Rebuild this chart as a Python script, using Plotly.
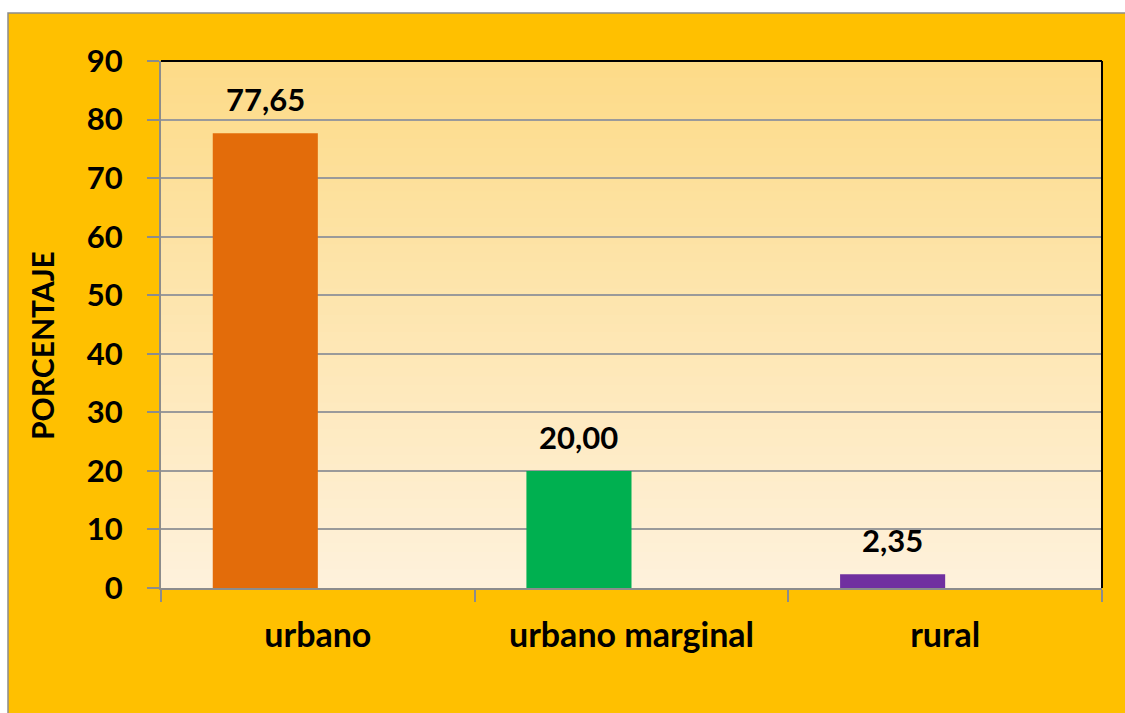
import plotly.graph_objects as go

categories = ["urbano", "urbano marginal", "rural"]
values = [77.65, 20.00, 2.35]
empty_series = [None, None, None]
bar_colors = ["#E36C0A", "#00B050", "#7030A0"]
y_ticks = [0, 10, 20, 30, 40, 50, 60, 70, 80, 90]
y_title = "PORCENTAJE"

FONT = "Lato"
W, H = 1125, 713
L, R, T, B = 161, 1102, 61, 588
BARGAP = 0.33

def px_x(p):
    return (p - L) / (R - L)

def px_y(p):
    return (B - p) / (B - T)

fig = go.Figure()
fig.add_trace(go.Bar(
    x=categories, y=values, offsetgroup="a",
    marker=dict(color=bar_colors, line=dict(width=0)),
    hoverinfo="skip",
))
fig.add_trace(go.Bar(
    x=categories, y=empty_series, offsetgroup="b",
    marker=dict(color="rgba(0,0,0,0)", line=dict(width=0)),
    hoverinfo="skip",
))

shapes = []
# outer frame (orange area with gray border)
shapes.append(dict(type="rect", xref="paper", yref="paper",
                   x0=px_x(8), x1=px_x(1150), y0=px_y(740), y1=px_y(13),
                   fillcolor="#FFC000", line=dict(color="#8C8C8C", width=1.5),
                   layer="below"))
# gradient plot background
top = (0xFD, 0xDB, 0x88)
bot = (0xFE, 0xF1, 0xDB)
n = 60
for i in range(n):
    f = i / (n - 1)
    c = tuple(round(top[k] + (bot[k] - top[k]) * f) for k in range(3))
    shapes.append(dict(type="rect", xref="x domain", yref="y domain",
                       x0=0, x1=1, y0=1 - (i + 1) / n, y1=1 - i / n + 0.002,
                       fillcolor="rgb(%d,%d,%d)" % c, line=dict(width=0),
                       layer="below"))
# top and right black border
shapes.append(dict(type="line", xref="x domain", yref="y domain",
                   x0=0, x1=1, y0=1, y1=1, line=dict(color="#000000", width=2), layer="above"))
shapes.append(dict(type="line", xref="x domain", yref="y domain",
                   x0=1, x1=1, y0=0, y1=1, line=dict(color="#000000", width=2), layer="above"))

bar_offset = -(1 - BARGAP) / 4
annotations = []
for i, (c, v) in enumerate(zip(categories, values)):
    annotations.append(dict(x=i + bar_offset, y=v, xref="x", yref="y",
                            text="<b>" + f"{v:.2f}".replace(".", ",") + "</b>",
                            showarrow=False, yanchor="bottom", yshift=13,
                            font=dict(family=FONT, size=31, color="#000000")))
annotations.append(dict(x=px_x(42), y=px_y(345), xref="paper", yref="paper",
                        text=f"<b>{y_title}</b>", textangle=-90, showarrow=False,
                        xanchor="center", yanchor="middle",
                        font=dict(family=FONT, size=30, color="#000000")))

fig.update_layout(
    width=W, height=H,
    margin=dict(l=L, r=W - R, t=T, b=H - B, pad=0),
    paper_bgcolor="#FFFFFF",
    plot_bgcolor="rgba(0,0,0,0)",
    barmode="group",
    bargap=BARGAP,
    bargroupgap=0,
    showlegend=False,
    shapes=shapes,
    annotations=annotations,
    font=dict(family=FONT, color="#000000"),
)
fig.update_yaxes(
    range=[0, 90], tickvals=y_ticks, ticktext=[f"<b>{t}</b>" for t in y_ticks],
    showgrid=True, gridcolor="#9A9A9A", gridwidth=1.5,
    showline=True, linecolor="#8C8C8C", linewidth=2,
    ticks="outside", ticklen=12, tickcolor="#8C8C8C", tickwidth=2,
    tickfont=dict(family=FONT, size=31, color="#000000"),
    ticklabelstandoff=18, zeroline=False,
)
fig.update_xaxes(
    tickvals=categories, ticktext=[f"<b>{c}</b>" for c in categories],
    showline=True, linecolor="#8C8C8C", linewidth=2,
    ticks="outside", ticklen=12, tickcolor="#8C8C8C", tickwidth=2,
    tickson="boundaries", showgrid=False,
    tickfont=dict(family=FONT, size=34, color="#000000"),
    ticklabelstandoff=16,
)

fig.write_html(
    "out.html",
    config={"displayModeBar": False},
    post_script=(
        "document.body.style.margin='0';"
        "document.body.style.overflow='hidden';"
        "document.documentElement.style.overflow='hidden';"
    ),
)
